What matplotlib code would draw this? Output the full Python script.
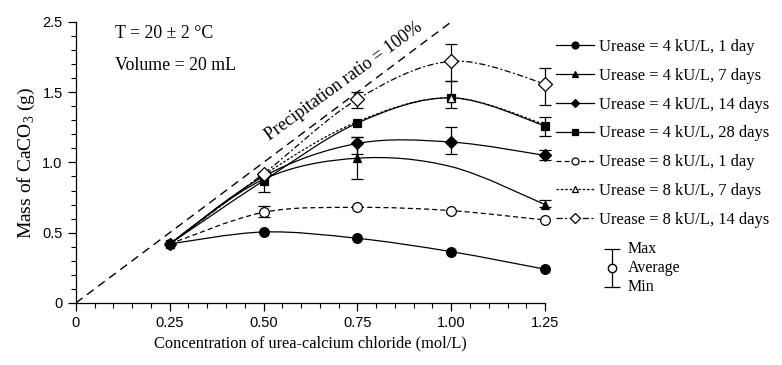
import numpy as np
import matplotlib
matplotlib.use("Agg")
import matplotlib.pyplot as plt
from matplotlib.path import Path
from matplotlib.patches import PathPatch
from matplotlib.lines import Line2D
from matplotlib.ticker import MultipleLocator

nan = np.nan

# ── Data ───────────────────────────────────────────────────────────────────
conc = [0.25, 0.50, 0.75, 1.00, 1.25]

u4_1d = [0.42, 0.505, 0.46, 0.365, 0.24]
u4_7d = [0.42, 0.88, 1.03, 0.97, 0.70]
u4_14d = [0.42, 0.90, 1.135, 1.145, 1.05]
u4_28d = [0.42, 0.87, 1.28, 1.46, 1.26]
u8_1d = [0.42, 0.645, 0.68, 0.657, 0.59]
u8_7d = [0.42, 0.91, 1.29, 1.46, 1.27]
u8_14d = [0.42, 0.92, 1.45, 1.72, 1.56]

# max / min of the replicate measurements (nan = no bar drawn)
u4_7d_max = [nan, nan, 1.18, nan, 0.73]
u4_7d_min = [nan, nan, 0.88, nan, 0.68]
u4_14d_max = [nan, nan, 1.18, 1.25, 1.09]
u4_14d_min = [nan, nan, 1.06, 1.06, 1.02]
u4_28d_max = [nan, 0.93, nan, 1.58, 1.32]
u4_28d_min = [nan, 0.79, nan, 1.39, 1.19]
u8_1d_max = [nan, 0.69, nan, nan, nan]
u8_1d_min = [nan, 0.61, nan, nan, nan]
u8_14d_max = [nan, nan, 1.50, 1.84, 1.67]
u8_14d_min = [nan, nan, 1.39, 1.58, 1.41]

ratio_x = [0, 1.0]        # precipitation ratio = 100 %
ratio_y = [0, 2.0]

y_ticks = [0, 0.5, 1.0, 1.5, 2.0]
y_ticklabels = ["0", "0.5", "1.0", "1.5", "2.5"]
x_ticks = [0, 0.25, 0.50, 0.75, 1.00, 1.25]
x_ticklabels = ["0", "0.25", "0.50", "0.75", "1.00", "1.25"]

SERIF = ["Liberation Serif", "DejaVu Serif"]
SANS = ["Liberation Sans", "DejaVu Sans"]
plt.rcParams["font.family"] = SERIF
plt.rcParams["mathtext.fontset"] = "custom"
plt.rcParams["mathtext.rm"] = "Liberation Serif"


def smooth_path(x, y):
    # Catmull-Rom through the points, expressed as cubic Bezier segments
    p = np.column_stack([x, y])
    verts = [p[0]]
    codes = [Path.MOVETO]
    n = len(p)
    for i in range(n - 1):
        p0 = p[i - 1] if i > 0 else p[i]
        p1, p2 = p[i], p[i + 1]
        p3 = p[i + 2] if i + 2 < n else p[i + 1]
        c1 = p1 + (p2 - p0) / 6
        c2 = p2 - (p3 - p1) / 6
        verts += [c1, c2, p2]
        codes += [Path.CURVE4] * 3
    return Path(verts, codes)


series = [
    ("Urease = 4 kU/L, 1 day", u4_1d, None, None, "-", "o", "black", 7, [0, 1, 2, 3, 4]),
    ("Urease = 4 kU/L, 7 days", u4_7d, u4_7d_max, u4_7d_min, "-", "^", "black", 6, [0, 1, 2, 4]),
    ("Urease = 4 kU/L, 14 days", u4_14d, u4_14d_max, u4_14d_min, "-", "D", "black", 6, [0, 1, 2, 3, 4]),
    ("Urease = 4 kU/L, 28 days", u4_28d, u4_28d_max, u4_28d_min, "-", "s", "black", 6, [0, 1, 2, 3, 4]),
    ("Urease = 8 kU/L, 1 day", u8_1d, u8_1d_max, u8_1d_min, (0, (4, 2.5)), "o", "white", 7, [1, 2, 3, 4]),
    ("Urease = 8 kU/L, 7 days", u8_7d, None, None, (0, (2, 1.5)), "^", "white", 6, [3]),
    ("Urease = 8 kU/L, 14 days", u8_14d, u8_14d_max, u8_14d_min, (0, (5, 2, 1.5, 2)), "D", "white", 7, [1, 2, 3, 4]),
]

fig = plt.figure(figsize=(7.82, 3.65), dpi=100)
ax = fig.add_axes([0.097, 0.170, 0.600, 0.770])

ax.plot(ratio_x, ratio_y, color="black", lw=1.0, dashes=(6, 4), zorder=1)

handles = []
for label, vals, vmax, vmin, ls, mk, fc, ms, every in series:
    patch = PathPatch(smooth_path(conc, vals), facecolor="none", edgecolor="black",
                      lw=0.9, linestyle=ls, zorder=2, clip_on=False)
    ax.add_patch(patch)
    if vmax is not None:
        vals_a = np.array(vals)
        lo = vals_a - np.array(vmin)
        hi = np.array(vmax) - vals_a
        eb = ax.errorbar(conc, vals, yerr=[lo, hi], fmt="none", ecolor="black",
                         elinewidth=0.9, capsize=4, capthick=0.9, zorder=3)
        for art in eb.lines[1] + eb.lines[2]:
            art.set_clip_on(False)
    ax.plot(conc, vals, linestyle="none", marker=mk, markersize=ms, markevery=every,
            markerfacecolor=fc, markeredgecolor="black", markeredgewidth=0.9,
            zorder=4, clip_on=False)
    handles.append(Line2D([], [], color="black", lw=0.9, linestyle=ls, marker=mk,
                          markersize=ms - 2, markerfacecolor=fc,
                          markeredgecolor="black", markeredgewidth=0.9, label=label))

ax.set_xlim(0, 1.25)
ax.set_ylim(0, 2.0)
ax.set_xticks(x_ticks)
ax.set_xticklabels(x_ticklabels)
ax.set_yticks(y_ticks)
ax.set_yticklabels(y_ticklabels)
ax.xaxis.set_minor_locator(MultipleLocator(0.05))
ax.yaxis.set_minor_locator(MultipleLocator(0.1))
ax.tick_params(which="major", direction="out", length=6, width=0.9, labelsize=10.5)
ax.tick_params(which="minor", direction="out", length=3.5, width=0.8)
for lab in ax.get_xticklabels() + ax.get_yticklabels():
    lab.set_family(SANS)
for side in ["top", "right"]:
    ax.spines[side].set_visible(False)
for side in ["left", "bottom"]:
    ax.spines[side].set_linewidth(0.9)

ax.set_xlabel("Concentration of urea-calcium chloride (mol/L)", fontsize=11.8, labelpad=4)
ax.set_ylabel("Mass of CaCO$_3$ (g)", fontsize=14, labelpad=4)

ax.text(0.105, 1.92, "T = 20 ± 2 °C", fontsize=12.8, ha="left", va="center")
ax.text(0.105, 1.69, "Volume = 20 mL", fontsize=12.8, ha="left", va="center")
ax.text(0.715, 1.575, "Precipitation ratio = 100%", fontsize=13, rotation=36,
        ha="center", va="center", rotation_mode="anchor")

fig.legend(handles=handles, loc="upper left", bbox_to_anchor=(0.703, 0.912),
           frameon=False, fontsize=11.9, handlelength=2.3, handletextpad=0.3,
           labelspacing=0.78, borderaxespad=0)

# Max / Average / Min key
kx, ky = 1.428, 0.25
ax.errorbar([kx], [ky], yerr=[[0.136], [0.136]], fmt="o", color="black",
            markerfacecolor="white", markersize=6, elinewidth=0.9, capsize=6,
            capthick=0.9, clip_on=False)
ax.text(kx + 0.042, ky + 0.136, "Max", fontsize=11.5, ha="left", va="center")
ax.text(kx + 0.042, ky, "Average", fontsize=11.5, ha="left", va="center")
ax.text(kx + 0.042, ky - 0.136, "Min", fontsize=11.5, ha="left", va="center")

fig.savefig("out.png", dpi=100)
